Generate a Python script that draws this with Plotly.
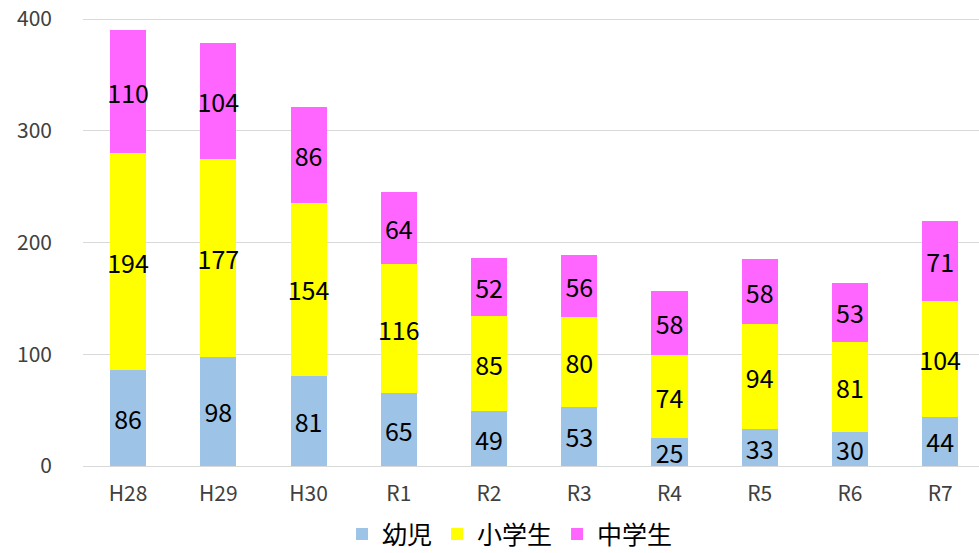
import plotly.graph_objects as go

categories = ["H28", "H29", "H30", "R1", "R2", "R3", "R4", "R5", "R6", "R7"]
infants = [86, 98, 81, 65, 49, 53, 25, 33, 30, 44]
elementary = [194, 177, 154, 116, 85, 80, 74, 94, 81, 104]
junior = [110, 104, 86, 64, 52, 56, 58, 58, 53, 71]
series_names = ["幼児", "小学生", "中学生"]
colors = ["#9DC3E6", "#FFFF00", "#FF66FF"]
ytick_vals = [0, 100, 200, 300, 400]

font = "Noto Sans CJK JP, Noto Sans, sans-serif"
fig = go.Figure()
for name, vals, col in zip(series_names, [infants, elementary, junior], colors):
    fig.add_trace(go.Bar(
        x=categories, y=vals, name=name,
        marker=dict(color=col, line=dict(width=0)),
        text=[str(v) for v in vals],
        textposition="inside", insidetextanchor="middle",
        constraintext="none", textangle=0,
        textfont=dict(size=25, color="black", family=font),
        width=0.4,
    ))

fig.update_layout(
    barmode="stack",
    width=979, height=553,
    margin=dict(l=83, r=0, t=18, b=87),
    plot_bgcolor="white", paper_bgcolor="white",
    showlegend=True,
    legend=dict(orientation="h", x=0.4766, xanchor="center",
                yref="container", y=0.034, yanchor="middle",
                font=dict(size=25, family=font, color="black"),
                itemwidth=30, traceorder="normal"),
    xaxis=dict(range=[-0.5, 9.43], showline=True, linecolor="#D9D9D9", linewidth=1,
               automargin=False, ticklabelstandoff=9,
               tickfont=dict(size=21, color="#404040", family=font), ticks=""),
    yaxis=dict(range=[0, 401], tickvals=ytick_vals, showgrid=True, gridcolor="#D9D9D9",
               zeroline=False, ticks="", ticklabelstandoff=30, automargin=False,
               tickfont=dict(size=21, color="#404040", family=font)),
)
fig.write_html("out.html", config={"displayModeBar": False},
               post_script="document.body.style.margin='0';")
